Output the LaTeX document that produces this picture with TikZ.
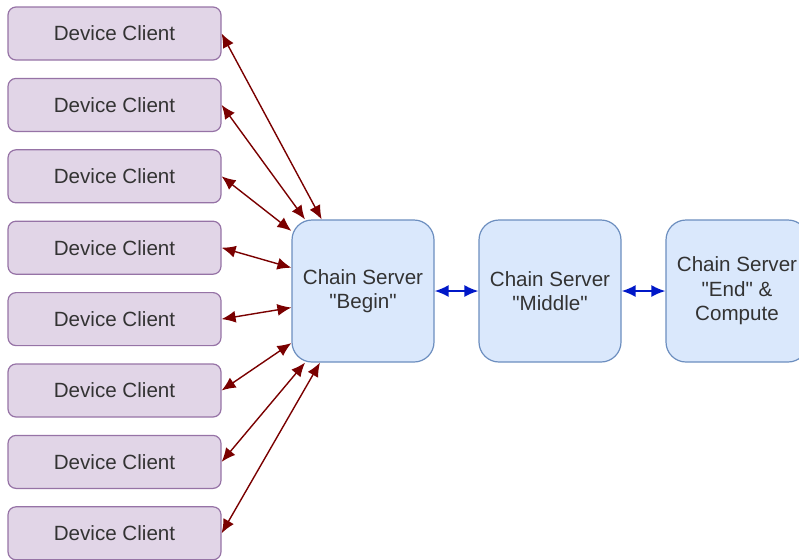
\documentclass[tikz,border=0pt]{standalone}
\usepackage{fontspec}
\setmainfont{Liberation Sans}
\usetikzlibrary{arrows.meta, positioning}

\definecolor{clientfill}{HTML}{E1D5E7}
\definecolor{clientline}{HTML}{9673A6}
\definecolor{serverfill}{HTML}{DAE8FC}
\definecolor{serverline}{HTML}{6C8EBF}
\definecolor{linkred}{HTML}{7A0000}
\definecolor{linkblue}{HTML}{0018C8}
\definecolor{txt}{HTML}{333333}

\newcommand{\qt}{\textquotedbl}

\tikzset{
  client/.style={draw=clientline, fill=clientfill, line width=0.6pt, rounded corners=4pt,
    minimum width=106.5pt, minimum height=26.5pt, text=txt, font=\fontsize{10.3}{12.3}\selectfont},
  server/.style={draw=serverline, fill=serverfill, line width=0.6pt, rounded corners=10pt,
    minimum width=71pt, minimum height=71pt, text=txt, align=center,
    font=\fontsize{10.3}{12.3}\selectfont},
}

\begin{document}
\begin{tikzpicture}[x=0.5pt, y=-0.5pt, >={Latex[length=7pt,width=6pt]}]
  \useasboundingbox (0,0) rectangle (799,559);
  \clip (0,0) rectangle (799,559);
  % clients
  \foreach \i in {1,...,8}
    \node [client] (dc\i) at (114.5,{33.5+71.4*(\i-1)}) {Device Client};
  % servers
  \node [server] (begin) at (363,291) {Chain Server\\\qt Begin\qt};
  \node [server] (middle) at (550,291) {Chain Server\\\qt Middle\qt};
  \node [server] (end) at (737,291) {Chain Server\\\qt End\qt{} \&\\Compute};
  % links
  \foreach \i/\a in {1/120,2/129,3/140,4/162,5/193,6/216,7/231,8/239}
    \draw [<->, linkred, line width=0.7pt] (dc\i.east) -- (begin.\a);
  \draw [<->, linkblue, line width=0.9pt] (begin) -- (middle);
  \draw [<->, linkblue, line width=0.9pt] (middle) -- (end);
\end{tikzpicture}
\end{document}
